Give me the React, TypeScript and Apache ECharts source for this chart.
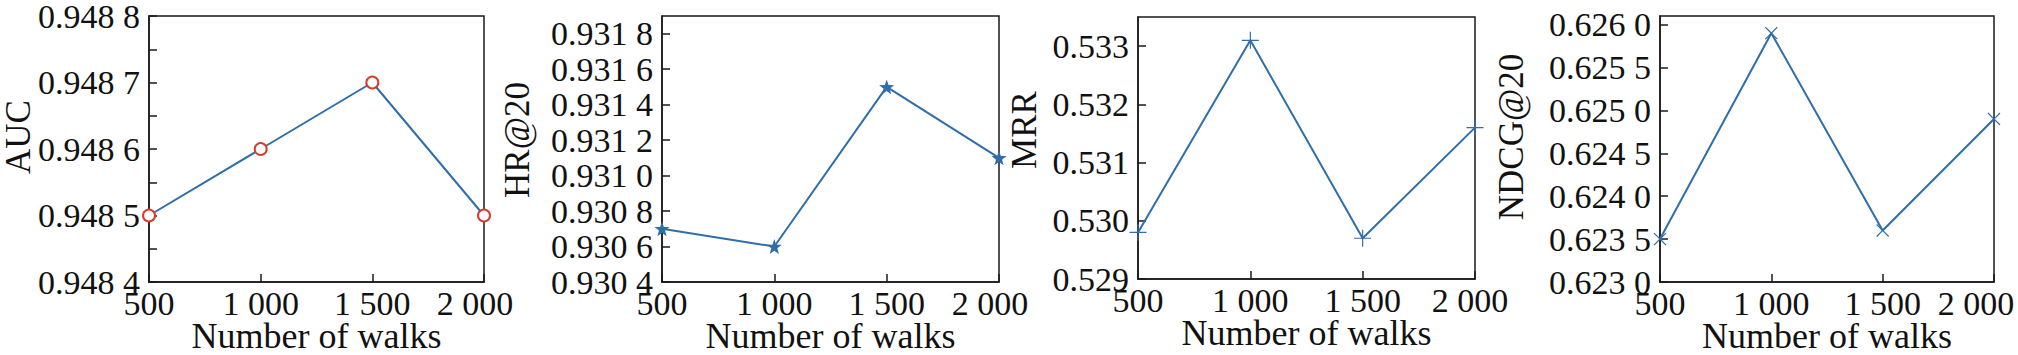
import React, { useEffect, useRef } from "react";
import * as echarts from "echarts";

const walks = [500, 1000, 1500, 2000];
const xTicks = ["500", "1 000", "1 500", "2 000"];

const aucValues = [0.9485, 0.9486, 0.9487, 0.9485];
const hrValues = [0.9307, 0.9306, 0.9315, 0.9311];
const mrrValues = [0.5298, 0.5331, 0.5297, 0.5316];
const ndcgValues = [0.6235, 0.6259, 0.6236, 0.6249];

const metricNames = ["AUC", "HR@20", "MRR", "NDCG@20"];

const FONT = "Liberation Serif";
const LINE = "#2f6ea8";
const RED = "#d93a2b";
const FRAME = "#1a1a1a";

const STAR =
  "path://M10,0 L12.35,6.76 L19.51,6.91 L13.80,11.24 L15.88,18.09 L10,14 L4.12,18.09 L6.20,11.24 L0.49,6.91 L7.65,6.76 Z";
const PLUS = "path://M9.3,0H10.7V9.3H20V10.7H10.7V20H9.3V10.7H0V9.3H9.3Z";

const spaced4 = (v: number) => {
  const s = v.toFixed(4);
  return s.slice(0, 5) + " " + s.slice(5);
};
const fixed3 = (v: number) => v.toFixed(3);

export default function App() {
  const ref = useRef<HTMLDivElement>(null);
  useEffect(() => {
    document.body.style.margin = "0";
    if (!ref.current) return;
    const chart = echarts.init(ref.current, undefined, { renderer: "svg" });

    const grids = [
      { left: 149, top: 16, width: 335, height: 266 },
      { left: 662, top: 16, width: 337, height: 266 },
      { left: 1138, top: 17, width: 337, height: 262 },
      { left: 1660, top: 16, width: 334, height: 266 },
    ];

    const yCfg = [
      { min: 0.9484, max: 0.9488, interval: 0.0001, fmt: spaced4, gap: 113, shift: 24, minor: true },
      { min: 0.9304, max: 0.9319, interval: 0.0002, fmt: spaced4, gap: 127, shift: 18, minor: false },
      { min: 0.529, max: 0.5335, interval: 0.001, fmt: fixed3, gap: 96, shift: 36, minor: false },
      { min: 0.623, max: 0.6261, interval: 0.0005, fmt: spaced4, gap: 131, shift: 24, minor: false },
    ];
    const lastLabelPad = [18, 18, 10, 36];

    const seriesData = [aucValues, hrValues, mrrValues, ndcgValues];
    const symbols = ["emptyCircle", STAR, PLUS, PLUS];
    const symbolSizes = [12, 15, 17, 17];
    const symbolRotates = [0, 0, 0, 45];

    const option: any = {
      animation: false,
      backgroundColor: "#ffffff",
      textStyle: { fontFamily: FONT },
      grid: grids.map((g) => ({
        ...g,
        containLabel: false,
        outerBoundsMode: "none",
        show: true,
        borderColor: FRAME,
        borderWidth: 1.5,
        backgroundColor: "transparent",
      })),
      xAxis: grids.map((_, i) => ({
        type: "value",
        gridIndex: i,
        min: 500,
        max: 2000,
        interval: 500,
        name: "Number of walks",
        nameLocation: "middle",
        nameGap: 36,
        nameMoveOverlap: false,
        nameTextStyle: { fontFamily: FONT, fontSize: 36, color: "#111" },
        axisLine: { show: true, lineStyle: { color: FRAME, width: 1.5 } },
        axisTick: { show: true, inside: true, length: 8, lineStyle: { color: FRAME, width: 1.5 } },
        splitLine: { show: false },
        axisLabel: {
          fontFamily: FONT,
          fontSize: 34,
          color: "#111",
          margin: 4,
          showMinLabel: true,
          showMaxLabel: true,
          formatter: (v: number) => {
            const t = xTicks[walks.indexOf(v)] ?? String(v);
            return v === walks[walks.length - 1] ? "{m|" + t + "}" : t;
          },
          rich: {
            m: {
              fontFamily: FONT,
              fontSize: 34,
              color: "#111",
              padding: [0, lastLabelPad[i], 0, 0],
            },
          },
        },
      })),
      yAxis: yCfg.map((c, i) => ({
        type: "value",
        gridIndex: i,
        min: c.min,
        max: c.max,
        interval: c.interval,
        name: metricNames[i],
        nameLocation: "middle",
        nameRotate: 90,
        nameGap: c.gap,
        nameMoveOverlap: false,
        nameTextStyle: {
          fontFamily: FONT,
          fontSize: 35,
          color: "#111",
          padding: [0, 0, 0, c.shift],
        },
        axisLine: { show: true, lineStyle: { color: FRAME, width: 1.5 } },
        axisTick: { show: true, inside: true, length: 8, lineStyle: { color: FRAME, width: 1.5 } },
        minorTick: {
          show: c.minor,
          splitNumber: 2,
          length: 8,
          lineStyle: { color: FRAME, width: 1.5 },
        },
        splitLine: { show: false },
        minorSplitLine: { show: false },
        axisLabel: {
          fontFamily: FONT,
          fontSize: 34,
          color: "#111",
          margin: 9,
          showMinLabel: true,
          showMaxLabel: i === 0 ? true : false,
          formatter: (v: number) => c.fmt(v),
        },
      })),
      series: seriesData.map((d, i) => ({
        type: "line",
        xAxisIndex: i,
        yAxisIndex: i,
        data: d.map((v, k) => [walks[k], v]),
        symbol: symbols[i],
        symbolSize: symbolSizes[i],
        symbolRotate: symbolRotates[i],
        showAllSymbol: true,
        clip: false,
        lineStyle: { color: LINE, width: 2 },
        itemStyle:
          i === 0
            ? { color: RED, borderColor: RED, borderWidth: 2.2 }
            : { color: LINE, borderWidth: 0 },
        z: 3,
      })),
    };

    chart.setOption(option);
    return () => chart.dispose();
  }, []);

  return <div ref={ref} style={{ width: 2018, height: 355 }} />;
}
